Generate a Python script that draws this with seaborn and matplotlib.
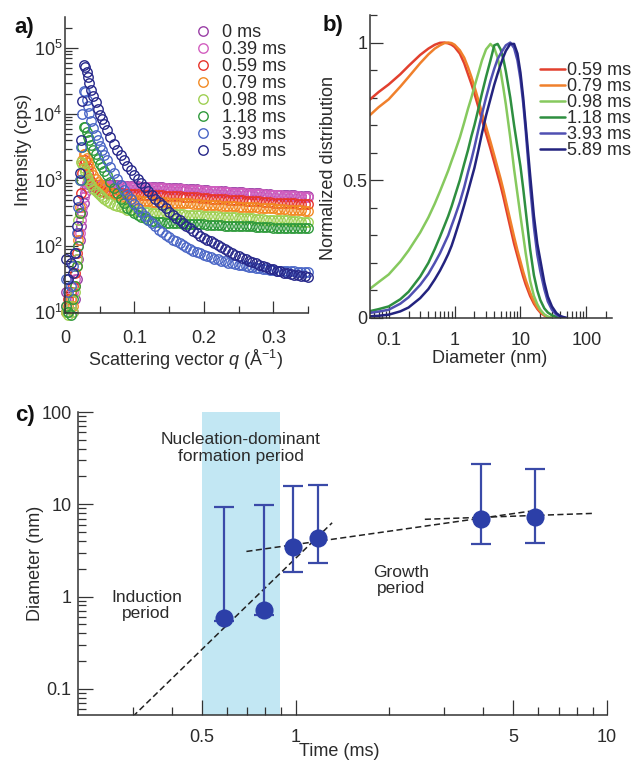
import numpy as np
import matplotlib
matplotlib.use("Agg")
import matplotlib.pyplot as plt
import matplotlib.ticker as mticker
import seaborn as sns

# ---------------- a) SAXS profiles ----------------
q_vals = [0.002, 0.005, 0.008, 0.011, 0.014, 0.017, 0.019, 0.021, 0.023, 0.025,
          0.027, 0.029, 0.031, 0.033, 0.035, 0.038, 0.041, 0.044, 0.047, 0.050,
          0.053, 0.056, 0.060, 0.065, 0.070, 0.075,
          0.080, 0.085, 0.090, 0.095, 0.100, 0.105, 0.110, 0.115, 0.120, 0.125,
          0.130, 0.135, 0.140, 0.145, 0.150, 0.155, 0.160, 0.165, 0.170, 0.175,
          0.180, 0.185, 0.190, 0.195, 0.200, 0.205, 0.210, 0.215, 0.220, 0.225,
          0.230, 0.235, 0.240, 0.245, 0.250, 0.255, 0.260, 0.265, 0.270, 0.275,
          0.280, 0.285, 0.290, 0.295, 0.300, 0.305, 0.310, 0.315, 0.320, 0.325,
          0.330, 0.335, 0.340, 0.345, 0.350]

saxs_labels = ["0 ms", "0.39 ms", "0.59 ms", "0.79 ms", "0.98 ms", "1.18 ms", "3.93 ms", "5.89 ms"]
saxs_colors = ["#9a3fa6", "#d35fc0", "#e8342b", "#f28a24", "#9fd053", "#2f9a3c", "#4a66c6", "#27288a"]

# log10 of intensity (cps)
logI_0ms = [1.3, 1.0, 1.1, 1.0, 1.2, 1.5, 1.8, 2.1, 2.3, 2.5,
            2.65, 2.8, 2.9, 2.97, 3.0, 2.96, 2.93, 2.92, 2.92, 2.92,
            2.92, 2.92, 2.92, 2.92, 2.92, 2.92,
            2.92, 2.915, 2.91, 2.91, 2.91, 2.905, 2.90, 2.90, 2.90, 2.895,
            2.89, 2.89, 2.89, 2.885, 2.88, 2.88, 2.88, 2.875, 2.87, 2.865,
            2.86, 2.86, 2.86, 2.855, 2.85, 2.845, 2.84, 2.84, 2.84, 2.835,
            2.83, 2.825, 2.82, 2.82, 2.82, 2.815, 2.81, 2.805, 2.80, 2.80,
            2.80, 2.795, 2.79, 2.785, 2.78, 2.78, 2.78, 2.775, 2.77, 2.77,
            2.77, 2.765, 2.76, 2.76, 2.76]
logI_039ms = [1.1, 1.0, 1.2, 1.3, 1.5, 1.8, 2.0, 2.2, 2.4, 2.6,
              2.75, 2.88, 2.95, 2.97, 2.95, 2.92, 2.91, 2.91, 2.91, 2.91,
              2.91, 2.91, 2.91, 2.91, 2.91, 2.91,
              2.91, 2.905, 2.90, 2.90, 2.90, 2.895, 2.89, 2.89, 2.89, 2.885,
              2.88, 2.88, 2.88, 2.875, 2.87, 2.87, 2.87, 2.865, 2.86, 2.855,
              2.85, 2.85, 2.85, 2.845, 2.84, 2.835, 2.83, 2.83, 2.83, 2.825,
              2.82, 2.815, 2.81, 2.81, 2.81, 2.805, 2.80, 2.795, 2.79, 2.79,
              2.79, 2.785, 2.78, 2.775, 2.77, 2.77, 2.77, 2.765, 2.76, 2.76,
              2.76, 2.755, 2.75, 2.75, 2.75]
logI_059ms = [1.0, 1.2, 1.3, 1.4, 1.6, 1.9, 2.2, 2.5, 2.8, 3.1,
              3.25, 3.3, 3.2, 3.1, 3.03, 2.97, 2.92, 2.88, 2.86, 2.84,
              2.83, 2.82, 2.81, 2.80, 2.80, 2.80,
              2.80, 2.795, 2.79, 2.79, 2.79, 2.785, 2.78, 2.78, 2.78, 2.775,
              2.77, 2.77, 2.77, 2.765, 2.76, 2.76, 2.76, 2.755, 2.75, 2.745,
              2.74, 2.74, 2.74, 2.735, 2.73, 2.725, 2.72, 2.72, 2.72, 2.715,
              2.71, 2.705, 2.70, 2.70, 2.70, 2.695, 2.69, 2.685, 2.68, 2.68,
              2.68, 2.675, 2.67, 2.665, 2.66, 2.66, 2.66, 2.655, 2.65, 2.65,
              2.65, 2.645, 2.64, 2.64, 2.64]
logI_079ms = [1.0, 1.1, 1.2, 1.1, 1.4, 1.7, 2.1, 2.6, 3.0, 3.3,
              3.40, 3.40, 3.33, 3.27, 3.21, 3.14, 3.07, 3.01, 2.97, 2.94,
              2.91, 2.89, 2.86, 2.82, 2.79, 2.77,
              2.75, 2.735, 2.72, 2.71, 2.70, 2.695, 2.69, 2.685, 2.68, 2.675,
              2.67, 2.67, 2.67, 2.665, 2.66, 2.66, 2.66, 2.655, 2.65, 2.65,
              2.65, 2.645, 2.64, 2.635, 2.63, 2.63, 2.63, 2.625, 2.62, 2.615,
              2.61, 2.61, 2.61, 2.605, 2.60, 2.595, 2.59, 2.59, 2.59, 2.585,
              2.58, 2.575, 2.57, 2.57, 2.57, 2.565, 2.56, 2.555, 2.55, 2.55,
              2.55, 2.545, 2.54, 2.535, 2.53]
logI_098ms = [1.0, 0.95, 1.1, 1.0, 1.3, 1.8, 2.4, 3.0, 3.28, 3.25,
              3.19, 3.12, 3.06, 3.01, 2.97, 2.92, 2.87, 2.83, 2.80, 2.77,
              2.74, 2.72, 2.69, 2.66, 2.63, 2.61,
              2.59, 2.57, 2.55, 2.54, 2.53, 2.525, 2.52, 2.515, 2.51, 2.505,
              2.50, 2.50, 2.50, 2.495, 2.49, 2.49, 2.49, 2.485, 2.48, 2.475,
              2.47, 2.47, 2.47, 2.465, 2.46, 2.46, 2.46, 2.455, 2.45, 2.445,
              2.44, 2.44, 2.44, 2.435, 2.43, 2.425, 2.42, 2.42, 2.42, 2.415,
              2.41, 2.405, 2.40, 2.40, 2.40, 2.395, 2.39, 2.39, 2.39, 2.385,
              2.38, 2.375, 2.37, 2.37, 2.37]
logI_118ms = [1.1, 1.0, 0.95, 1.2, 1.4, 1.7, 2.0, 2.5, 3.0, 3.5,
              3.8, 3.80, 3.73, 3.66, 3.60, 3.53, 3.46, 3.39, 3.32, 3.25,
              3.20, 3.14, 3.07, 2.97, 2.88, 2.80,
              2.72, 2.65, 2.58, 2.54, 2.50, 2.47, 2.44, 2.42, 2.40, 2.38,
              2.37, 2.365, 2.36, 2.355, 2.35, 2.35, 2.35, 2.345, 2.34, 2.34,
              2.34, 2.335, 2.33, 2.33, 2.33, 2.325, 2.32, 2.32, 2.32, 2.315,
              2.31, 2.31, 2.31, 2.305, 2.30, 2.30, 2.30, 2.30, 2.30, 2.295,
              2.29, 2.29, 2.29, 2.285, 2.28, 2.28, 2.28, 2.28, 2.28, 2.275,
              2.27, 2.27, 2.27, 2.27, 2.27]
logI_393ms = [1.5, 1.3, 1.4, 1.7, 1.9, 2.2, 2.6, 3.0, 3.5, 4.0,
              4.35, 4.33, 4.22, 4.12, 4.02, 3.90, 3.79, 3.69, 3.60, 3.52,
              3.45, 3.38, 3.30, 3.20, 3.10, 3.01,
              2.93, 2.85, 2.78, 2.71, 2.64, 2.57, 2.51, 2.45, 2.40, 2.35,
              2.30, 2.25, 2.21, 2.17, 2.14, 2.10, 2.07, 2.04, 2.01, 1.98,
              1.96, 1.93, 1.91, 1.89, 1.87, 1.85, 1.83, 1.81, 1.80, 1.78,
              1.77, 1.75, 1.74, 1.73, 1.72, 1.71, 1.70, 1.69, 1.68, 1.67,
              1.67, 1.66, 1.65, 1.64, 1.64, 1.63, 1.63, 1.62, 1.62, 1.62,
              1.62, 1.61, 1.61, 1.61, 1.61]
logI_589ms = [1.8, 1.5, 1.75, 1.6, 1.9, 2.3, 2.7, 3.1, 3.6, 4.2,
              4.75, 4.72, 4.64, 4.56, 4.47, 4.37, 4.27, 4.18, 4.07, 3.99,
              3.92, 3.85, 3.76, 3.65, 3.55, 3.46,
              3.38, 3.30, 3.22, 3.15, 3.08, 3.01, 2.95, 2.89, 2.83, 2.77,
              2.72, 2.67, 2.62, 2.57, 2.52, 2.47, 2.43, 2.39, 2.35, 2.31,
              2.27, 2.23, 2.20, 2.16, 2.13, 2.10, 2.07, 2.04, 2.01, 1.98,
              1.95, 1.92, 1.90, 1.87, 1.85, 1.82, 1.80, 1.78, 1.76, 1.74,
              1.72, 1.70, 1.68, 1.66, 1.65, 1.63, 1.62, 1.60, 1.59, 1.58,
              1.57, 1.56, 1.55, 1.54, 1.53]
saxs_series = [logI_0ms, logI_039ms, logI_059ms, logI_079ms,
               logI_098ms, logI_118ms, logI_393ms, logI_589ms]

# ---------------- b) size distributions ----------------
diam_grid = [0.05, 0.07, 0.1, 0.15, 0.2, 0.3, 0.4, 0.5, 0.6, 0.7, 0.8, 0.9, 1.0, 1.2, 1.4,
             1.6, 1.8, 2.0, 2.3, 2.6, 3.0, 3.5, 4.0, 4.5, 5.0, 5.5, 6.0, 7.0, 8.0, 9.0,
             10, 11, 12, 14, 16, 18, 20, 23, 26, 30, 35, 40, 50]
psd_labels = ["0.59 ms", "0.79 ms", "0.98 ms", "1.18 ms", "3.93 ms", "5.89 ms"]
psd_colors = ["#e2402e", "#f0802c", "#86c95e", "#2e8f40", "#5050b2", "#23237f"]
dist_059 = [0.79, 0.82, 0.848, 0.885, 0.915, 0.955, 0.978, 0.992, 0.999, 1.0,
            0.997, 0.992, 0.984, 0.96, 0.925, 0.885, 0.85, 0.815, 0.765, 0.72,
            0.67, 0.615, 0.565, 0.52, 0.48, 0.44, 0.40, 0.33, 0.27, 0.225,
            0.185, 0.15, 0.122, 0.08, 0.052, 0.033, 0.02, 0.009, 0.003, 0.0]
dist_079 = [0.733, 0.765, 0.794, 0.84, 0.875, 0.925, 0.957, 0.978, 0.99, 0.998,
            1.0, 0.998, 0.992, 0.972, 0.945, 0.91, 0.875, 0.84, 0.79, 0.745,
            0.695, 0.64, 0.59, 0.545, 0.505, 0.465, 0.425, 0.355, 0.295, 0.245,
            0.205, 0.168, 0.138, 0.092, 0.06, 0.038, 0.024, 0.011, 0.004, 0.0]
dist_098 = [0.103, 0.13, 0.158, 0.205, 0.245, 0.31, 0.365, 0.415, 0.46, 0.50,
            0.535, 0.57, 0.60, 0.655, 0.71, 0.76, 0.80, 0.84, 0.89, 0.935,
            0.975, 0.995, 0.98, 0.945, 0.895, 0.835, 0.775, 0.655, 0.54, 0.45,
            0.37, 0.30, 0.235, 0.135, 0.08, 0.05, 0.03, 0.013, 0.005, 0.0]
dist_118 = [0.024, 0.032, 0.042, 0.068, 0.095, 0.15, 0.20, 0.25, 0.295, 0.335,
            0.37, 0.405, 0.44, 0.50, 0.56, 0.61, 0.66, 0.70, 0.76, 0.815,
            0.875, 0.935, 0.99, 0.995, 0.975, 0.94, 0.895, 0.80, 0.70, 0.62,
            0.55, 0.47, 0.39, 0.25, 0.155, 0.10, 0.065, 0.035, 0.02, 0.01,
            0.004, 0.0]
dist_393 = [0.018, 0.023, 0.03, 0.052, 0.075, 0.12, 0.16, 0.20, 0.235, 0.27,
            0.30, 0.335, 0.365, 0.42, 0.475, 0.53, 0.575, 0.62, 0.685, 0.74,
            0.80, 0.86, 0.905, 0.94, 0.96, 0.976, 0.99, 1.0, 0.98, 0.935,
            0.867, 0.78, 0.68, 0.48, 0.33, 0.23, 0.17, 0.105, 0.06, 0.03,
            0.012, 0.005, 0.0]
dist_589 = [0.006, 0.008, 0.012, 0.024, 0.038, 0.072, 0.105, 0.14, 0.172, 0.203,
            0.232, 0.262, 0.295, 0.355, 0.41, 0.46, 0.505, 0.545, 0.61, 0.67,
            0.735, 0.795, 0.847, 0.887, 0.92, 0.948, 0.97, 0.995, 0.995, 0.96,
            0.89, 0.80, 0.70, 0.52, 0.37, 0.27, 0.21, 0.13, 0.078, 0.042,
            0.018, 0.007, 0.0]
psd_series = [dist_059, dist_079, dist_098, dist_118, dist_393, dist_589]

# ---------------- c) mean diameter vs time ----------------
times_ms = [0.59, 0.79, 0.98, 1.18, 3.93, 5.89]
diam_nm = [0.58, 0.72, 3.4, 4.3, 6.9, 7.2]
diam_low = [0.545, 0.63, 1.83, 2.31, 3.69, 3.82]
diam_high = [9.35, 9.8, 15.6, 16.1, 27.3, 24.3]
nucleation_span = (0.5, 0.89)
fit_induction_t = [0.30, 1.31]
fit_induction_d = [0.050, 6.3]
fit_growth_t = [0.695, 5.65]
fit_growth_d = [3.08, 8.4]
fit_late_t = [2.6, 9.15]
fit_late_d = [6.87, 7.98]

# ---------------- style ----------------
sns.set_theme(style="ticks")
plt.rcParams["font.family"] = ["Liberation Sans", "DejaVu Sans"]
plt.rcParams["mathtext.fontset"] = "custom"
plt.rcParams["mathtext.rm"] = "Liberation Sans"
plt.rcParams["mathtext.it"] = "Liberation Sans:italic"
plt.rcParams["mathtext.bf"] = "Liberation Sans:bold"
TXT = "#2b2b2b"
FS = 13


def style_axis(ax, xpad, ypad):
    for s in ["top", "right"]:
        ax.spines[s].set_visible(False)
    for s in ["left", "bottom"]:
        ax.spines[s].set_linewidth(1.1)
        ax.spines[s].set_color("#333333")
    ax.tick_params(which="both", direction="in", color="#333333", width=0.9,
                   labelcolor=TXT, labelsize=FS)
    ax.tick_params(which="major", length=9)
    ax.tick_params(which="minor", length=5)
    ax.tick_params(axis="x", which="both", pad=xpad)
    ax.tick_params(axis="y", which="both", pad=ypad)


fig = plt.figure(figsize=(6.34, 7.62), dpi=100)
ax_a = fig.add_axes([0.1025, 0.5892, 0.3833, 0.3885])
ax_b = fig.add_axes([0.5836, 0.5827, 0.3817, 0.3976])
ax_c = fig.add_axes([0.123, 0.0617, 0.8344, 0.3976])

# ---- panel a
ax_a.set_yscale("log")
for lab, col, vals in zip(saxs_labels, saxs_colors, saxs_series):
    sns.lineplot(x=q_vals, y=np.power(10.0, vals), ax=ax_a, color=col, marker="o",
                 linestyle="none", markersize=6.8, markerfacecolor="none",
                 markeredgecolor=col, markeredgewidth=1.0, estimator=None, sort=False,
                 label=lab, clip_on=False)
ax_a.set_xlim(0, 0.35)
ax_a.set_ylim(9.7, 2.95e5)
ax_a.xaxis.set_major_locator(mticker.FixedLocator([0, 0.1, 0.2, 0.3]))
ax_a.xaxis.set_major_formatter(mticker.FixedFormatter(["0", "0.1", "0.2", "0.3"]))
ax_a.xaxis.set_minor_locator(mticker.FixedLocator([0.05, 0.15, 0.25, 0.35]))
ax_a.yaxis.set_major_locator(mticker.LogLocator(base=10, numticks=10))
ax_a.yaxis.set_minor_locator(mticker.LogLocator(base=10, subs=np.arange(2, 10), numticks=20))
ax_a.yaxis.set_minor_formatter(mticker.NullFormatter())
style_axis(ax_a, 12, 2)
ax_a.set_xlabel("Scattering vector $q$ (Å$^{-1}$)", fontsize=FS, color=TXT)
ax_a.set_ylabel("Intensity (cps)", fontsize=FS, color=TXT)
ax_a.xaxis.set_label_coords(0.494, -0.118)
ax_a.yaxis.set_label_coords(-0.136, 0.55)
ax_a.legend(loc="upper left", bbox_to_anchor=(0.531, 0.975), frameon=False, fontsize=FS,
            handlelength=1.0, handletextpad=0.55, labelspacing=0.0, borderpad=0,
            borderaxespad=0, labelcolor=TXT)

# ---- panel b
ax_b.set_xscale("log")
for lab, col, vals in zip(psd_labels, psd_colors, psd_series):
    sns.lineplot(x=diam_grid[:len(vals)], y=vals, ax=ax_b, color=col, linewidth=1.8,
                 estimator=None, sort=False, label=lab)
ax_b.set_xlim(0.052, 245)
ax_b.set_ylim(0, 1.1)
ax_b.xaxis.set_major_locator(mticker.FixedLocator([0.1, 1, 10, 100]))
ax_b.xaxis.set_major_formatter(mticker.FixedFormatter(["0.1", "1", "10", "100"]))
ax_b.xaxis.set_minor_locator(mticker.LogLocator(base=10, subs=np.arange(2, 10), numticks=20))
ax_b.xaxis.set_minor_formatter(mticker.NullFormatter())
ax_b.yaxis.set_major_locator(mticker.FixedLocator([0, 0.5, 1]))
ax_b.yaxis.set_major_formatter(mticker.FixedFormatter(["0", "0.5", "1"]))
ax_b.yaxis.set_minor_locator(mticker.MultipleLocator(0.1))
style_axis(ax_b, 10, 2)
ax_b.set_xlabel("Diameter (nm)", fontsize=FS, color=TXT)
ax_b.set_ylabel("Normalized distribution", fontsize=FS, color=TXT)
ax_b.xaxis.set_label_coords(0.496, -0.105)
ax_b.yaxis.set_label_coords(-0.136, 0.495)
ax_b.legend(loc="upper left", bbox_to_anchor=(0.702, 0.845), frameon=False, fontsize=FS,
            handlelength=1.4, handletextpad=0.12, labelspacing=-0.05, borderpad=0,
            borderaxespad=0, labelcolor=TXT)

# ---- panel c
ax_c.set_xscale("log")
ax_c.set_yscale("log")
ax_c.axvspan(*nucleation_span, color="#c2e7f3", lw=0, zorder=0)
dash_kw = dict(color="#222222", linewidth=1.1, linestyle="--", dashes=(4, 2.2), zorder=2)
ax_c.plot(fit_induction_t, fit_induction_d, **dash_kw)
ax_c.plot(fit_growth_t, fit_growth_d, **dash_kw)
ax_c.plot(fit_late_t, fit_late_d, **dash_kw)
yerr = [np.array(diam_nm) - np.array(diam_low), np.array(diam_high) - np.array(diam_nm)]
ax_c.errorbar(times_ms, diam_nm, yerr=yerr, fmt="none", ecolor="#3a4aa8", elinewidth=1.6,
              capsize=7.5, capthick=1.6, zorder=3)
sns.scatterplot(x=times_ms, y=diam_nm, ax=ax_c, s=170, color="#2c3fa8", edgecolor="#2c3fa8",
                linewidth=0, zorder=4)
ax_c.set_xlim(0.2, 10)
ax_c.set_ylim(0.052, 100)
ax_c.xaxis.set_major_locator(mticker.FixedLocator([0.5, 1, 5, 10]))
ax_c.xaxis.set_major_formatter(mticker.FixedFormatter(["0.5", "1", "5", "10"]))
ax_c.xaxis.set_minor_locator(mticker.FixedLocator([0.3, 0.4, 0.6, 0.7, 0.8, 0.9, 2, 3, 4, 6, 7, 8, 9]))
ax_c.xaxis.set_minor_formatter(mticker.NullFormatter())
ax_c.yaxis.set_major_locator(mticker.FixedLocator([0.1, 1, 10, 100]))
ax_c.yaxis.set_major_formatter(mticker.FixedFormatter(["0.1", "1", "10", "100"]))
ax_c.yaxis.set_minor_locator(mticker.LogLocator(base=10, subs=np.arange(2, 10), numticks=20))
ax_c.yaxis.set_minor_formatter(mticker.NullFormatter())
style_axis(ax_c, 10, 4.5)
ax_c.tick_params(which="major", length=11)
ax_c.tick_params(which="minor", length=6)
ax_c.set_xlabel("Time (ms)", fontsize=FS, color=TXT)
ax_c.set_ylabel("Diameter (nm)", fontsize=FS, color=TXT)
ax_c.xaxis.set_label_coords(0.493, -0.093)
ax_c.yaxis.set_label_coords(-0.064, 0.50)

txt_kw = dict(ha="center", va="center", fontsize=12.5, color=TXT, linespacing=1.15)
ax_c.text(0.665, 40.6, "Nucleation-dominant\nformation period", **txt_kw)
ax_c.text(0.332, 0.80, "Induction\nperiod", **txt_kw)
ax_c.text(2.18, 1.49, "Growth\nperiod", **txt_kw)

# panel letters
fig.text(14 / 634, 1 - 27 / 762, "a)", fontsize=16, fontweight="bold", color="#111111", va="center")
fig.text(323 / 634, 1 - 25 / 762, "b)", fontsize=16, fontweight="bold", color="#111111", va="center")
fig.text(15 / 634, 1 - 416 / 762, "c)", fontsize=16, fontweight="bold", color="#111111", va="center")

fig.savefig("out.png", dpi=100)
